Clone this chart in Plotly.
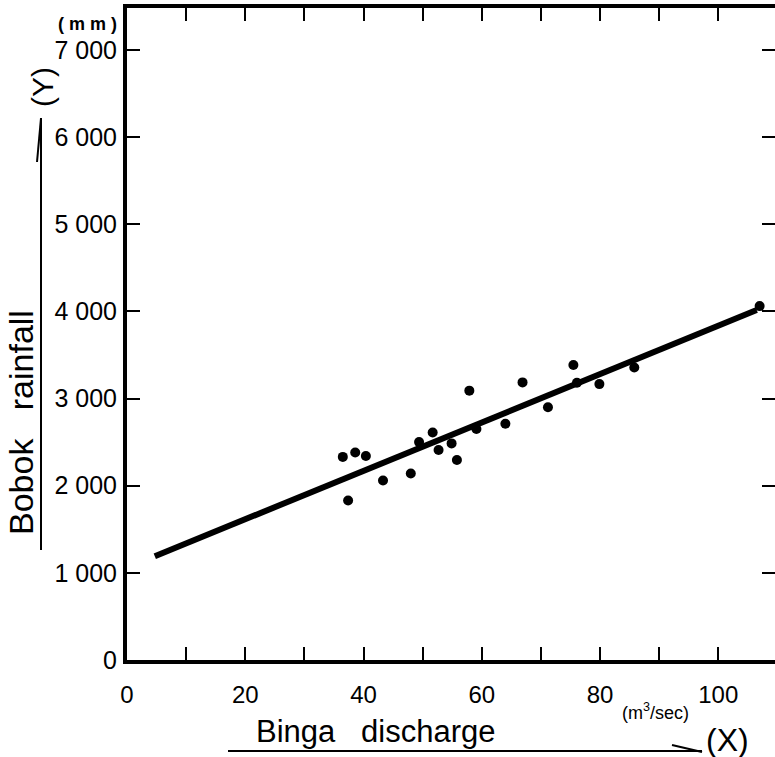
import plotly.graph_objects as go

# ---- data ----
discharge = [36.5, 38.6, 40.4, 37.4, 43.3, 48.0, 49.4, 51.7, 52.7, 54.9, 55.8,
             57.9, 59.1, 64.0, 66.9, 71.2, 75.5, 76.1, 79.9, 85.8, 107.0]
rainfall = [2330, 2380, 2340, 1830, 2060, 2140, 2500, 2610, 2410, 2485, 2295,
            3090, 2650, 2710, 3185, 2900, 3385, 3180, 3165, 3355, 4060]
fit_x = [4.7, 106.5]
fit_y = [1190, 4015]

x_major = [0, 20, 40, 60, 80, 100]
x_labels = ["0", "20", "40", "60", "80", "100"]
x_minor = [10, 30, 50, 70, 90]
y_ticks = [0, 1000, 2000, 3000, 4000, 5000, 6000, 7000]
y_ticktext = ["0", "1 000", "2 000", "3 000", "4 000", "5 000", "6 000", "7 000"]

X_RANGE = [0, 109.6]
Y_RANGE = [0, 7480]

W, H = 775, 757
L, R, T, B = 127, 0, 8, 97
PW, PH = W - L - R, H - T - B

def px(x):
    return (x - L) / PW

def py(y):
    return (H - B - y) / PH

FONT = "Liberation Sans, Arial, Helvetica, sans-serif"

fig = go.Figure()
fig.add_trace(go.Scatter(x=fit_x, y=fit_y, mode="lines",
                         line=dict(color="black", width=6), hoverinfo="skip"))
fig.add_trace(go.Scatter(x=discharge, y=rainfall, mode="markers",
                         marker=dict(color="black", size=10)))
fig.add_trace(go.Scatter(x=[50], y=[-1000], yaxis="y2", mode="markers",
                         marker=dict(size=1, color="white"), hoverinfo="skip"))

fig.update_layout(
    width=W, height=H,
    margin=dict(l=L, r=R, t=T, b=B, pad=0),
    paper_bgcolor="white", plot_bgcolor="white",
    showlegend=False,
    font=dict(family=FONT, color="black", size=24),
    xaxis=dict(range=X_RANGE, tickvals=x_major, ticktext=x_labels,
               ticks="inside", ticklen=13, tickwidth=2, tickcolor="black",
               minor=dict(tickvals=x_minor, ticks="inside", ticklen=13,
                          tickwidth=2, tickcolor="black", showgrid=False),
               showline=True, linewidth=4, linecolor="black", mirror="ticks",
               showgrid=False, zeroline=False, ticklabelstandoff=10,
               tickfont=dict(size=24, family=FONT)),
    yaxis=dict(range=Y_RANGE, tickvals=y_ticks, ticktext=y_ticktext,
               ticks="inside", ticklen=13, tickwidth=2, tickcolor="black",
               showline=True, linewidth=4, linecolor="black", mirror=False,
               showgrid=False, zeroline=False, ticklabelstandoff=1,
               tickfont=dict(size=25, family=FONT)),
    yaxis2=dict(range=Y_RANGE, tickvals=y_ticks, overlaying="y", side="right",
                anchor="x", ticks="inside", ticklen=13, tickwidth=2,
                tickcolor="black", showticklabels=False, showline=False,
                showgrid=False, zeroline=False),
)

ann = [
    dict(text="<b>( m m )</b>", x=px(87), y=py(24), font=dict(size=18)),
    dict(text="(Y)", x=px(43), y=py(87), font=dict(size=30), textangle=-90),
    dict(text="Bobok&nbsp;&nbsp;&nbsp;rainfall", x=px(21), y=py(423),
         font=dict(size=34), textangle=-90),
    dict(text="Binga&nbsp;&nbsp;&nbsp;discharge", x=px(376), y=py(731),
         font=dict(size=31)),
    dict(text="(m<sup>3</sup>/sec)", x=px(655), y=py(711), font=dict(size=18)),
    dict(text="(X)", x=px(727), y=py(740), font=dict(size=32)),
]
for a in ann:
    a.update(xref="paper", yref="paper", showarrow=False,
             xanchor="center", yanchor="middle")
    a["font"].update(family=FONT, color="black")
    fig.add_annotation(**a)

shapes = [
    dict(x0=px(228), x1=px(702), y0=py(751), y1=py(751)),
    dict(x0=px(672), x1=px(702), y0=py(745), y1=py(752)),
    dict(x0=px(41), x1=px(41), y0=py(118), y1=py(550)),
    dict(x0=px(41), x1=px(37), y0=py(118), y1=py(162)),
]
for s in shapes:
    fig.add_shape(type="line", xref="paper", yref="paper",
                  line=dict(color="black", width=2), **s)

fig.write_html("out.html")
